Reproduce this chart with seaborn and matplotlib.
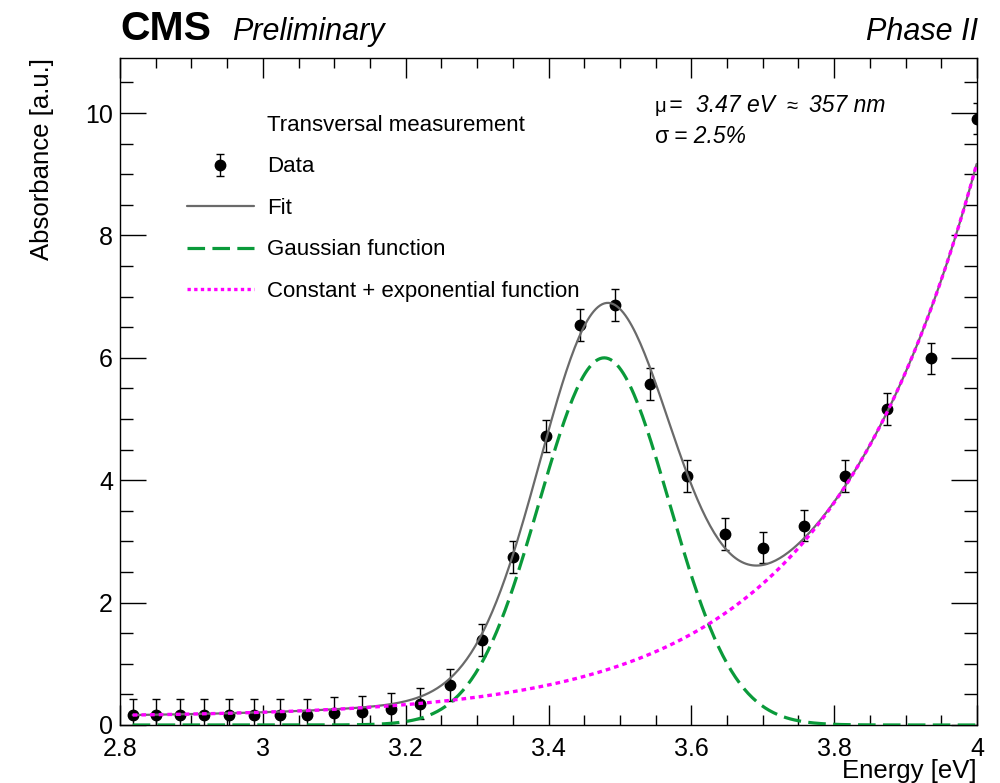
import numpy as np
import pandas as pd
import matplotlib
matplotlib.use("Agg")
import matplotlib.pyplot as plt
import seaborn as sns
from matplotlib.lines import Line2D
from matplotlib.ticker import MultipleLocator, FuncFormatter

# ---- data ----
energy_ev = [2.8178, 2.8502, 2.8834, 2.9173, 2.9520, 2.9876, 3.0240, 3.0613,
             3.0996, 3.1389, 3.1791, 3.2204, 3.2627, 3.3062, 3.3509, 3.3968,
             3.4440, 3.4925, 3.5424, 3.5937, 3.6466, 3.7010, 3.7571, 3.8149,
             3.8745, 3.9360, 3.9995]
absorbance = [0.17, 0.17, 0.17, 0.17, 0.16, 0.17, 0.17, 0.17,
              0.19, 0.21, 0.26, 0.35, 0.66, 1.39, 2.75, 4.72,
              6.54, 6.86, 5.57, 4.07, 3.12, 2.90, 3.26, 4.07,
              5.16, 5.99, 9.91]
absorbance_err = [0.26, 0.26, 0.26, 0.26, 0.26, 0.26, 0.26, 0.26,
                  0.26, 0.26, 0.26, 0.26, 0.26, 0.26, 0.26, 0.26,
                  0.26, 0.26, 0.26, 0.26, 0.26, 0.26, 0.26, 0.26,
                  0.26, 0.26, 0.26]

# fit parameters (Gaussian + constant + exponential)
gauss_amp = 6.0
gauss_mu = 3.478
gauss_sigma = 0.091
bg_const = 0.13
bg_amp = 9.06
bg_slope = 4.75
bg_ref = 4.0

x_ticks = [2.8, 3.0, 3.2, 3.4, 3.6, 3.8, 4.0]
y_ticks = [0, 2, 4, 6, 8, 10]

legend_labels = ["Transversal measurement", "Data", "Fit",
                 "Gaussian function", "Constant + exponential function"]

# ---- style ----
sns.set_theme(style="ticks")
plt.rcParams["font.family"] = ["Liberation Sans", "DejaVu Sans"]
plt.rcParams["axes.linewidth"] = 1.0
plt.rcParams["axes.edgecolor"] = "black"
plt.rcParams["text.color"] = "black"
plt.rcParams["axes.labelcolor"] = "black"
plt.rcParams["xtick.color"] = "black"
plt.rcParams["ytick.color"] = "black"
plt.rcParams["xtick.labelcolor"] = "black"
plt.rcParams["ytick.labelcolor"] = "black"

fig = plt.figure(figsize=(10, 7.83), dpi=100)
W, H = 1000, 783
ax = fig.add_axes([120 / W, 1 - 725 / H, 857 / W, 667 / H])

# ---- model curves ----
e_grid = np.linspace(energy_ev[0], energy_ev[-1], 400)
gauss_curve = gauss_amp * np.exp(-0.5 * ((e_grid - gauss_mu) / gauss_sigma) ** 2)
bg_curve = bg_const + bg_amp * np.exp(bg_slope * (e_grid - bg_ref))
curves = pd.DataFrame({"E": e_grid, "fit": gauss_curve + bg_curve,
                       "gauss": gauss_curve, "bg": bg_curve})

green = "#0a9a3a"
magenta = "#ff00ff"
grey = "#6a6a6a"

ax.errorbar(energy_ev, absorbance, yerr=absorbance_err, fmt="o", color="black",
            markersize=7.5, elinewidth=1.0, capsize=2.6, capthick=1.0, zorder=2)
sns.lineplot(data=curves, x="E", y="fit", ax=ax, color=grey, linewidth=1.6,
             zorder=3)
sns.lineplot(data=curves, x="E", y="gauss", ax=ax, color=green, linewidth=2.3,
             linestyle=(0, (5.5, 2.3)), zorder=4)
sns.lineplot(data=curves, x="E", y="bg", ax=ax, color=magenta, linewidth=2.4,
             linestyle=(0, (1.4, 1.2)), zorder=5)

ax.set_xlim(2.8, 4.0)
ax.set_ylim(0, 10.9)
ax.set_xticks(x_ticks)
ax.set_yticks(y_ticks)
ax.xaxis.set_minor_locator(MultipleLocator(0.05))
ax.yaxis.set_minor_locator(MultipleLocator(0.5))
ax.xaxis.set_major_formatter(FuncFormatter(lambda v, p: f"{v:g}"))
ax.yaxis.set_major_formatter(FuncFormatter(lambda v, p: f"{v:g}"))
ax.tick_params(axis="both", which="both", direction="in", top=True, right=True,
               width=1.0, colors="black", labelsize=18)
ax.tick_params(axis="x", which="major", length=14.5, pad=8.5)
ax.tick_params(axis="x", which="minor", length=7.2)
ax.tick_params(axis="y", which="major", length=18.5, pad=5)
ax.tick_params(axis="y", which="minor", length=9.3)
for s in ax.spines.values():
    s.set_visible(True)
    s.set_linewidth(1.0)
    s.set_color("black")

ax.set_xlabel("Energy [eV]", fontsize=18.5, loc="right")
ax.xaxis.set_label_coords(1.0, -0.051)
ax.set_ylabel("Absorbance [a.u.]", fontsize=18.5, loc="top")
ax.yaxis.set_label_coords(-0.077, 1.0)

# ---- legend ----
handles = [
    Line2D([], [], linestyle="none"),
    ax.containers[0],
    Line2D([], [], color=grey, linewidth=1.6),
    Line2D([], [], color=green, linewidth=2.3, linestyle=(0, (5.5, 2.3))),
    Line2D([], [], color=magenta, linewidth=2.4, linestyle=(0, (1.0, 1.0))),
]
ax.legend(handles, legend_labels, loc="upper left",
          bbox_to_anchor=((187 - 120) / 857, (725 - 115) / 667),
          frameon=False, fontsize=16, borderpad=0, borderaxespad=0,
          handlelength=3.0, handletextpad=0.62, labelspacing=0.92)

# ---- annotations ----
def fx(px):
    return px / W

def fy(py):
    return 1 - py / H

fig.text(fx(120), fy(40), "CMS", fontsize=29.5, fontweight="bold",
         va="baseline", ha="left")
fig.text(fx(232), fy(40), "Preliminary", fontsize=22, style="italic",
         va="baseline", ha="left")
fig.text(fx(978), fy(40), "Phase II", fontsize=22, style="italic",
         va="baseline", ha="right")

ann = 16.5
fig.text(fx(655), fy(112), "μ", fontsize=14.5, va="baseline", ha="left")
fig.text(fx(669), fy(112), "=", fontsize=ann, style="italic",
         va="baseline", ha="left")
fig.text(fx(696), fy(112), "3.47 eV", fontsize=ann, style="italic",
         va="baseline", ha="left")
fig.text(fx(786), fy(112), "≈", fontsize=ann - 2, va="baseline", ha="left")
fig.text(fx(809), fy(112), "357 nm", fontsize=ann, style="italic",
         va="baseline", ha="left")
fig.text(fx(655), fy(143), "σ", fontsize=ann, va="baseline", ha="left")
fig.text(fx(674), fy(143), "= 2.5%", fontsize=ann, style="italic",
         va="baseline", ha="left")

fig.savefig("out.png", dpi=100)
